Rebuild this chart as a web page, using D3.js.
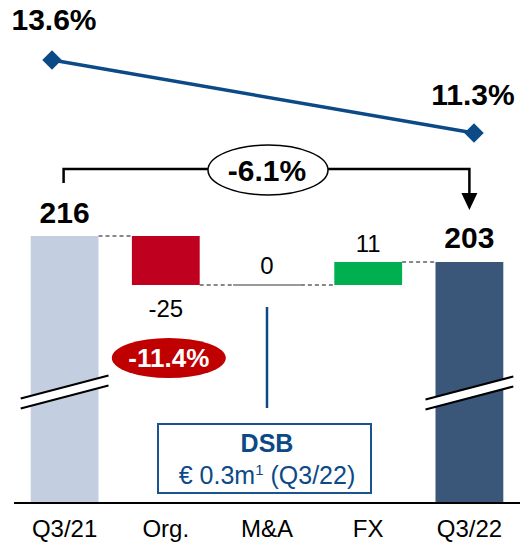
<!DOCTYPE html>
<html>
<head>
<meta charset="utf-8">
<script src="https://cdn.jsdelivr.net/npm/d3@7"></script>
<style>
  body { margin: 0; background: white; }
  text { font-family: Arial, "Liberation Sans", sans-serif; }
</style>
</head>
<body>
<div id="vis"></div>
<script>
// chart data
let categories = ["Q3/21", "Org.", "M&A", "FX", "Q3/22"];
let steps = [216, -24.5, 0, 11.5, 203];        // start, deltas, end
let stepLabels = ["216", "-25", "0", "11", "203"];
let marginPeriods = ["Q3/21", "Q3/22"];
let marginValues = [13.6, 11.3];
let marginLabels = ["13.6%", "11.3%"];
let totalChange = "-6.1%";
let orgChange = "-11.4%";
let noteTitle = "DSB";
let noteText = "€ 0.3m";
let noteTail = " (Q3/22)";

let width = 520, height = 544;

let svg = d3.select('#vis')
  .append('svg')
  .attr('width', width)
  .attr('height', height);

let x = d3.scaleBand()
  .domain(categories)
  .range([14, 520])
  .paddingInner(0.33)
  .paddingOuter(0.165);

// broken axis, baseline does not start at zero
let y = d3.scaleLinear()
  .domain([82.5, 216])
  .range([503, 236]);

let xLine = d3.scalePoint().domain(marginPeriods).range([52, 474]);
let yLine = d3.scaleLinear().domain([11.3, 13.6]).range([133, 60]);

// build waterfall pieces
let bars = [];
let running = 0;
categories.forEach(function(c, i) {
  let v = steps[i];
  if (i == 0 || i == categories.length - 1) {
    bars.push({cat: c, lo: y.domain()[0], hi: v, label: stepLabels[i], type: i == 0 ? 'start' : 'end'});
    running = v;
  } else {
    let next = running + v;
    bars.push({cat: c, lo: Math.min(running, next), hi: Math.max(running, next), from: running, to: next,
      label: stepLabels[i], type: v < 0 ? 'neg' : (v > 0 ? 'pos' : 'zero')});
    running = next;
  }
});

let colors = {start: '#c3cfe1', end: '#3a5779', neg: '#c0001f', pos: '#00b050'};

// connectors
for (let i = 0; i < bars.length - 1; i++) {
  let level = bars[i].type == 'start' ? bars[i].hi : bars[i].to;
  svg.append('line')
    .attr('x1', x(bars[i].cat) + x.bandwidth())
    .attr('x2', x(bars[i + 1].cat))
    .attr('y1', y(level))
    .attr('y2', y(level))
    .attr('stroke', '#111')
    .attr('stroke-width', 1)
    .attr('stroke-dasharray', '4,3');
}

svg.selectAll('.bar')
  .data(bars.filter(d => d.type != 'zero'))
  .enter().append('rect')
  .attr('class', 'bar')
  .attr('x', d => x(d.cat))
  .attr('width', x.bandwidth())
  .attr('y', d => y(d.hi))
  .attr('height', d => y(d.lo) - y(d.hi))
  .attr('fill', d => colors[d.type]);

bars.filter(d => d.type == 'zero').forEach(function(d) {
  svg.append('line')
    .attr('x1', x(d.cat)).attr('x2', x(d.cat) + x.bandwidth())
    .attr('y1', y(d.to)).attr('y2', y(d.to))
    .attr('stroke', '#999').attr('stroke-width', 2);
});

// value labels
svg.selectAll('.val')
  .data(bars)
  .enter().append('text')
  .attr('class', 'val')
  .attr('x', d => x(d.cat) + x.bandwidth() / 2)
  .attr('y', function(d) {
    if (d.type == 'neg') return y(d.lo) + 32;
    if (d.type == 'start') return y(d.hi) - 13;
    if (d.type == 'end') return y(d.hi) - 14;
    if (d.type == 'pos') return y(d.hi) - 10;
    return y(d.hi) - 11;
  })
  .attr('text-anchor', 'middle')
  .style('font-size', d => (d.type == 'start' || d.type == 'end') ? '30px' : '24px')
  .style('font-weight', d => (d.type == 'start' || d.type == 'end') ? 'bold' : 'normal')
  .text(d => d.label);

// axis break marks on the total bars
[bars[0], bars[bars.length - 1]].forEach(function(d, i) {
  let x0 = x(d.cat) - 10, x1 = x(d.cat) + x.bandwidth() + 10;
  let yc = i == 0 ? 392 : 393;
  let dy = 11.5, gap = 5;
  svg.append('polygon')
    .attr('points', [[x0, yc + dy - gap], [x1, yc - dy - gap], [x1, yc - dy + gap], [x0, yc + dy + gap]].join(' '))
    .attr('fill', 'white');
  [-gap, gap].forEach(function(o) {
    svg.append('line')
      .attr('x1', x0).attr('y1', yc + dy + o)
      .attr('x2', x1).attr('y2', yc - dy + o)
      .attr('stroke', 'black').attr('stroke-width', 2);
  });
});

// x axis
let axis = svg.append('g')
  .attr('transform', 'translate(0,' + y.range()[0] + ')')
  .call(d3.axisBottom(x).tickSize(0).tickPadding(17));
axis.select('.domain').attr('d', 'M14,0H520').attr('stroke', 'black').attr('stroke-width', 2);
axis.selectAll('text').style('font-size', '24px').style('font-family', 'Arial, "Liberation Sans", sans-serif').attr('fill', 'black');

// margin line
svg.append('path')
  .datum(marginValues)
  .attr('d', d3.line().x((d, i) => xLine(marginPeriods[i])).y(d => yLine(d)))
  .attr('fill', 'none')
  .attr('stroke', '#0c4a87')
  .attr('stroke-width', 3.5);

svg.selectAll('.diamond')
  .data(marginValues)
  .enter().append('path')
  .attr('d', d3.symbol().type(d3.symbolSquare).size(190))
  .attr('transform', (d, i) => 'translate(' + xLine(marginPeriods[i]) + ',' + yLine(d) + ') rotate(45)')
  .attr('fill', '#0c4a87');

svg.selectAll('.mlabel')
  .data(marginValues)
  .enter().append('text')
  .attr('x', (d, i) => xLine(marginPeriods[i]) + (i == 0 ? 2 : -1))
  .attr('y', (d, i) => yLine(d) - (i == 0 ? 30 : 28))
  .attr('text-anchor', 'middle')
  .style('font-size', '30px')
  .style('font-weight', 'bold')
  .text((d, i) => marginLabels[i]);

// total change bracket
let bx0 = x(categories[0]) + x.bandwidth() / 2 - 1;
let bx1 = x(categories[4]) + x.bandwidth() / 2;
let by = 169;
svg.append('path')
  .attr('d', 'M' + bx0 + ',183V' + by + 'H' + bx1 + 'V195')
  .attr('fill', 'none')
  .attr('stroke', 'black')
  .attr('stroke-width', 2.5);
svg.append('path')
  .attr('d', 'M' + (bx1 - 8) + ',193L' + (bx1 + 8) + ',193L' + bx1 + ',210Z')
  .attr('fill', 'black');

let mx = x(categories[2]) + x.bandwidth() / 2;
svg.append('ellipse')
  .attr('cx', mx + 1).attr('cy', by + 1)
  .attr('rx', 60).attr('ry', 25)
  .attr('fill', 'white').attr('stroke', 'black').attr('stroke-width', 1.5);
svg.append('text')
  .attr('x', mx).attr('y', by + 12)
  .attr('text-anchor', 'middle')
  .style('font-size', '30px').style('font-weight', 'bold')
  .text(totalChange);

// organic change bubble
let ox = x(categories[1]) + x.bandwidth() / 2 + 3;
svg.append('ellipse')
  .attr('cx', ox).attr('cy', 358)
  .attr('rx', 57).attr('ry', 20)
  .attr('fill', '#c00000');
svg.append('text')
  .attr('x', ox).attr('y', 367)
  .attr('text-anchor', 'middle')
  .attr('fill', 'white')
  .style('font-size', '26px').style('font-weight', 'bold')
  .text(orgChange);

// DSB note
svg.append('line')
  .attr('x1', mx).attr('x2', mx)
  .attr('y1', 307).attr('y2', 408)
  .attr('stroke', '#0c4a87').attr('stroke-width', 2.5);
svg.append('rect')
  .attr('x', 158).attr('y', 424)
  .attr('width', 213).attr('height', 69)
  .attr('fill', 'white').attr('stroke', '#1a5490').attr('stroke-width', 2);
svg.append('text')
  .attr('x', mx).attr('y', 452)
  .attr('text-anchor', 'middle')
  .attr('fill', '#0c4a87')
  .style('font-size', '25px').style('font-weight', 'bold')
  .text(noteTitle);
let nt = svg.append('text')
  .attr('x', mx).attr('y', 484)
  .attr('text-anchor', 'middle')
  .attr('fill', '#0c4a87')
  .style('font-size', '25px');
nt.append('tspan').text(noteText);
nt.append('tspan').attr('dy', -9).style('font-size', '15px').text('1');
nt.append('tspan').attr('dy', 9).text(noteTail);
</script>
</body>
</html>
